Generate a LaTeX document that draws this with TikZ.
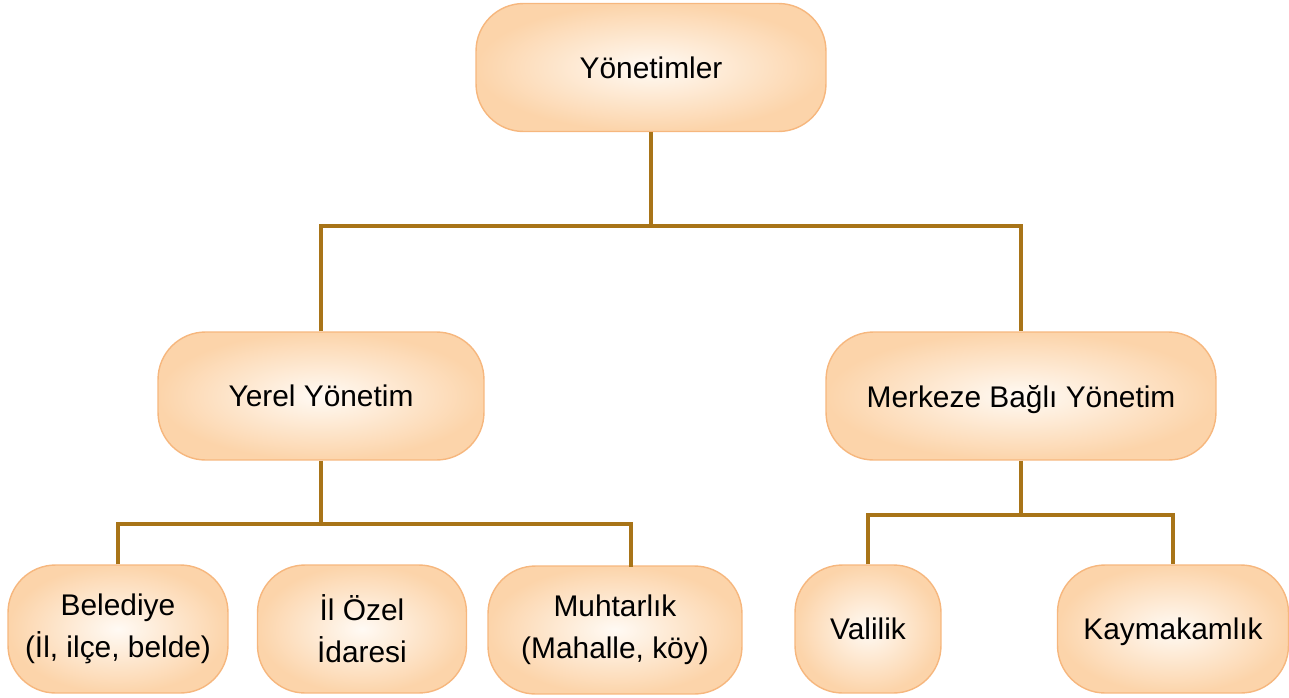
\documentclass[tikz,border=0pt]{standalone}
\usepackage{fontspec}
\setmainfont{Liberation Sans}
\definecolor{kutuKenar}{RGB}{246,183,126}
\definecolor{kutuDis}{RGB}{252,212,170}
\definecolor{kutuIc}{RGB}{255,250,244}
\definecolor{hatRenk}{RGB}{168,116,24}
\tikzset{
  kutu/.style={draw=kutuKenar, line width=0.8pt, rounded corners=0.95cm,
    inner color=kutuIc, outer color=kutuDis, font=\fontsize{17}{24}\selectfont,
    minimum height=2.56cm, inner sep=0pt},
  tekkutu/.style={kutu, text depth=0pt},
  hat/.style={draw=hatRenk, line width=2pt}
}
\begin{document}
\begin{tikzpicture}[x=0.02cm, y=-0.02cm, every text node part/.style={align=center}]
    \useasboundingbox (0,0) rectangle (1289,697);

    \node[tekkutu, minimum width=7cm] (VwYon) at (651,67.5) {Yönetimler};

    \node[tekkutu, minimum width=6.52cm] (VwYer) at (321,396) {Yerel Yönetim};
    \node[tekkutu, minimum width=7.8cm] (VwMer) at (1021,396) {Merkeze Bağlı Yönetim};

    \node[kutu, minimum width=4.4cm] (VwBel) at (118,629) {Belediye\\(İl, ilçe, belde)};
    \node[kutu, minimum width=4.18cm] (VwOze) at (362,629) {İl Özel\\İdaresi};
    \node[kutu, minimum width=5.08cm] (VwMuh) at (615,630) {Muhtarlık\\(Mahalle, köy)};

    \node[tekkutu, minimum width=2.92cm] (VwVal) at (868,629) {Valilik};
    \node[tekkutu, minimum width=4.62cm] (VwKay) at (1173,629) {Kaymakamlık};

    \coordinate (VwBusA) at (651,226);
    \coordinate (VwBusB) at (321,524);
    \coordinate (VwBusC) at (1021,515);
    \coordinate (VwMuhUst) at (631,567);

    \draw[hat] (VwYon) -- (VwBusA);
    \draw[hat] (VwYer.north) |- (VwBusA) -| (VwMer.north);

    \draw[hat] (VwYer) -- (VwBusB);
    \draw[hat] (VwBel.north) |- (VwBusB) -| (VwMuhUst);

    \draw[hat] (VwMer) -- (VwBusC);
    \draw[hat] (VwVal.north) |- (VwBusC) -| (VwKay.north);
  \end{tikzpicture}
\end{document}
